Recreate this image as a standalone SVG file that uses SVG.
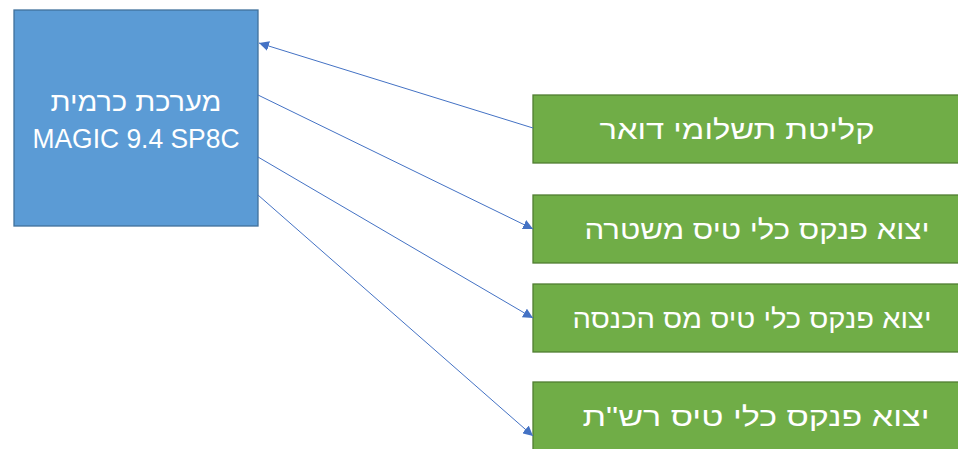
<svg xmlns="http://www.w3.org/2000/svg" width="958" height="449" viewBox="0 0 958 449">
<style>
.blue{fill:#5B9BD5;stroke:#41719C;stroke-width:1.3}
.green{fill:#70AD47;stroke:#507E32;stroke-width:1.3}
.t{fill:#fff;font-family:"Liberation Sans","DejaVu Sans",sans-serif;font-size:27px;text-anchor:middle}
.c{stroke:#4472C4;stroke-width:1;fill:none;marker-end:url(#ah)}
</style>
<defs>
<marker id="ah" viewBox="0 0 10 10" refX="10" refY="5" markerWidth="10" markerHeight="10" markerUnits="userSpaceOnUse" orient="auto">
<path d="M0,0 L10,5 L0,10 z" fill="#4472C4"/>
</marker>
</defs>
<rect width="958" height="449" fill="#fff"/>
<g id="main">
<rect class="blue" x="14" y="10" width="244" height="216"/>
<text class="t" x="136" y="111" direction="rtl" textLength="171" lengthAdjust="spacingAndGlyphs">מערכת כרמית</text>
<text class="t" x="136" y="148" textLength="207" lengthAdjust="spacingAndGlyphs">MAGIC 9.4 SP8C</text>
</g>
<g id="n1">
<rect class="green" x="533" y="95" width="440" height="68"/>
<text class="t" x="737" y="139" direction="rtl" textLength="275" lengthAdjust="spacingAndGlyphs">קליטת תשלומי דואר</text>
</g>
<g id="n2">
<rect class="green" x="533" y="195" width="440" height="68"/>
<text class="t" x="757" y="239" direction="rtl" textLength="345" lengthAdjust="spacingAndGlyphs">יצוא פנקס כלי טיס משטרה</text>
</g>
<g id="n3">
<rect class="green" x="533" y="284" width="440" height="68"/>
<text class="t" x="752" y="328" direction="rtl" textLength="359" lengthAdjust="spacingAndGlyphs">יצוא פנקס כלי טיס מס הכנסה</text>
</g>
<g id="n4">
<rect class="green" x="533" y="382" width="440" height="80"/>
<text class="t" x="756" y="426" direction="rtl" textLength="347" lengthAdjust="spacingAndGlyphs">יצוא פנקס כלי טיס רש"ת</text>
</g>
<g id="connectors">
<line class="c" x1="533" y1="128" x2="259" y2="43"/>
<line class="c" x1="258" y1="95" x2="533" y2="229"/>
<line class="c" x1="258" y1="157" x2="533" y2="318"/>
<line class="c" x1="258" y1="195" x2="533" y2="436"/>
</g>
</svg>
